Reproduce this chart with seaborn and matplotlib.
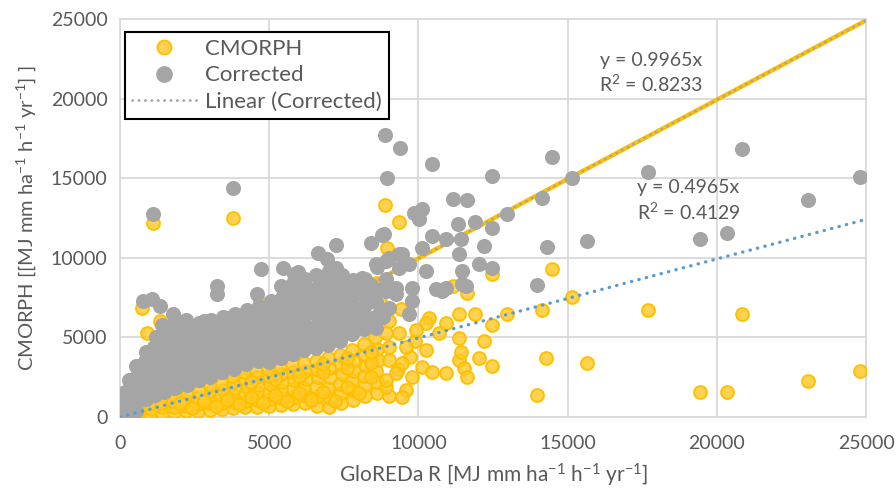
import numpy as np
import pandas as pd
import matplotlib
matplotlib.use("Agg")
import matplotlib.pyplot as plt
import seaborn as sns

# --- datos (GloREDa R vs CMORPH) ---
# nube densa de puntos corregidos (gris)
corrected_cloud = [
    (80, 250), (120, 700), (60, 1200), (150, 1600),
    (280, 150), (320, 650), (260, 1150), (340, 1750), (300, 2300),
    (520, 400), (580, 950), (540, 1500), (600, 2050), (560, 2600), (520, 3200),
    (880, 1150), (840, 1700), (900, 2300), (860, 2900), (820, 3500), (880, 4100),
    (1180, 1400), (1150, 2000), (1200, 2600), (1100, 3200), (1170, 3800), (1130, 4400), (1190, 5000),
    (1480, 1600), (1440, 2200), (1500, 2800), (1460, 3400), (1420, 4000), (1490, 4600), (1450, 5200), (1400, 5800),
    (1830, 1800), (1790, 2400), (1850, 3000), (1800, 3600), (1760, 4200), (1820, 4800), (1790, 5400), (1850, 6000),
    (2230, 2000), (2200, 2600), (2250, 3200), (2170, 3800), (2220, 4400), (2190, 5000), (2240, 5600), (2200, 6100),
    (2630, 2300), (2590, 2900), (2640, 3500), (2570, 4100), (2620, 4700), (2600, 5300), (2650, 5900),
    (3030, 2500), (2990, 3100), (3040, 3700), (2970, 4300), (3020, 4900), (3000, 5500), (3050, 6100),
    (3420, 2800), (3390, 3400), (3440, 4000), (3370, 4600), (3410, 5200), (3400, 5800), (3450, 6300),
    (3830, 3000), (3790, 3600), (3840, 4200), (3770, 4800), (3820, 5400), (3800, 6000), (3850, 6500),
    (4230, 3300), (4190, 3900), (4240, 4500), (4170, 5100), (4220, 5700), (4200, 6300), (4250, 6700),
    (4630, 3500), (4590, 4100), (4640, 4700), (4570, 5300), (4620, 5900), (4600, 6500), (4650, 7000),
    (4980, 3450), (5030, 3900), (4990, 4300), (5040, 4900), (4970, 5500), (5020, 6100), (5000, 6700), (5050, 7300),
    (5380, 3700), (5430, 4100), (5390, 4600), (5440, 5200), (5370, 5800), (5420, 6400), (5400, 7000), (5450, 7600), (5400, 8200),
    (5780, 3950), (5830, 4300), (5790, 4800), (5840, 5400), (5770, 6000), (5820, 6600), (5800, 7200), (5850, 7800), (5780, 8400), (5830, 9000),
    (6180, 4200), (6230, 4600), (6190, 5100), (6240, 5700), (6170, 6300), (6220, 6900), (6200, 7500), (6250, 8100), (6190, 8700),
    (6580, 4350), (6630, 4800), (6590, 5300), (6640, 5900), (6570, 6500), (6620, 7100), (6600, 7700), (6650, 8300), (6580, 8900),
    (6980, 4500), (7030, 5000), (6990, 5600), (7040, 6200), (6970, 6800), (7020, 7400), (7000, 8000), (7050, 8600), (6990, 9200),
    (7380, 4750), (7430, 5300), (7390, 5900), (7440, 6500), (7370, 7100), (7420, 7700), (7400, 8300), (7450, 8900),
    (7780, 5200), (7830, 5600), (7790, 6200), (7840, 6800), (7770, 7400), (7820, 8000), (7800, 8600),
    (8180, 5500), (8230, 5900), (8190, 6500), (8240, 7100), (8170, 7700), (8220, 8300), (8200, 8700),
    (8580, 5600), (8630, 6400), (8590, 7200), (8640, 8000), (8600, 9400),
    (400, 1900), (700, 1400), (1000, 2600), (1300, 3600), (1650, 4500), (2000, 5300),
    (2400, 3400), (2800, 4400), (3200, 5000), (3600, 5700), (4000, 4500), (4400, 5500),
    (4800, 6200), (5200, 5000), (5600, 6800), (6000, 7600), (6400, 5500), (6800, 8400),
    (7200, 6600), (7600, 7500), (8000, 6000), (8400, 7700), (8900, 8700), (8800, 6300),
    (1000, 1800), (1000, 3400), (1300, 2400), (1300, 4200), (1650, 2000), (1650, 3200),
    (1650, 5600), (2000, 2300), (2000, 3500), (2000, 4700), (2400, 2800), (2400, 4000),
    (2400, 5200), (2800, 2700), (2800, 3800), (2800, 5000), (2800, 6000), (3200, 2900),
    (3200, 4100), (3200, 5600), (3600, 3200), (3600, 4400), (3600, 6200), (4000, 3500),
    (4000, 5100), (4000, 6300), (4400, 3700), (4400, 4800), (4400, 6100), (4800, 4000),
    (4800, 5200), (4800, 6800), (5200, 4300), (5200, 5700), (5200, 7000), (5600, 4500),
    (5600, 5800), (5600, 7600), (6000, 4700), (6000, 6200), (6000, 8200), (6400, 4800),
    (6400, 6600), (6400, 7800), (6800, 5200), (6800, 6300), (6800, 7600), (7200, 5300),
    (7200, 7300), (7200, 8600), (7600, 5800), (7600, 6700), (7600, 8200), (8000, 6800),
    (8000, 7900), (8400, 6200), (8400, 8300),
]
# puntos corregidos dispersos
corrected_scatter = [
    (1100, 12750), (3780, 14375), (8890, 17690), (9390, 16875), (8950, 15000),
    (8790, 11440), (8420, 10940), (7250, 10810), (6620, 10310), (4710, 9310),
    (5450, 9375), (5950, 9125), (3240, 8250), (3240, 7750), (4580, 7750),
    (770, 7310), (1070, 7440), (1340, 7000), (1770, 6500), (10460, 15875),
    (14470, 16310), (12470, 15125), (15140, 15000), (17680, 15375), (11160, 13690),
    (11630, 13625), (14140, 13750), (12970, 12750), (9860, 12810), (10130, 13060),
    (10030, 12440), (11330, 12125), (11900, 12250), (12470, 11875), (12200, 10750),
    (14300, 10690), (15640, 11060), (13970, 8310), (8860, 11500), (20850, 16810),
    (24800, 15060), (23060, 13625), (19450, 11190), (20350, 11560),
    (10460, 11375), (10930, 11190), (11430, 11190), (10130, 10625), (9360, 10250),
    (8920, 9810), (9690, 9625), (10260, 9190), (11360, 10250), (11460, 9190),
    (12030, 9625), (12470, 9375), (11460, 8375), (10930, 8125), (10590, 8060),
    (9790, 8125), (9260, 7750), (8920, 7940), (9790, 7310), (9020, 6875),
    (9690, 6500), (11600, 8250), (6920, 9940), (7250, 9375), (7690, 8560),
    (8120, 8750), (8590, 9625), (9020, 10000), (9360, 9375), (9260, 8125),
    (9460, 10250), (10800, 7940),
]
# nube densa CMORPH (amarillo)
cmorph_cloud = [
    (100, 100), (120, 400), (300, 120), (320, 420), (600, 150), (620, 450),
    (1000, 200), (1020, 500), (980, 800), (1400, 250), (1420, 600), (1380, 900),
    (1800, 300), (1820, 650), (1780, 1000), (1840, 1300),
    (2200, 350), (2220, 700), (2180, 1050), (2240, 1400),
    (2600, 400), (2620, 800), (2580, 1200), (2640, 1600),
    (3000, 450), (3020, 850), (2980, 1250), (3040, 1650), (3000, 2000),
    (3400, 500), (3420, 900), (3380, 1300), (3440, 1700), (3400, 2100),
    (3800, 550), (3820, 950), (3780, 1400), (3840, 1800), (3800, 2200), (3760, 2600),
    (4200, 600), (4220, 1000), (4180, 1450), (4240, 1900), (4200, 2400), (4160, 2800),
    (4600, 650), (4620, 1100), (4580, 1550), (4640, 2000), (4600, 2500), (4560, 2900),
    (5000, 700), (5020, 1150), (4980, 1600), (5040, 2100), (5000, 2600), (4960, 3000),
    (5400, 750), (5420, 1200), (5380, 1700), (5440, 2200), (5400, 2700), (5360, 3200),
    (5800, 800), (5820, 1250), (5780, 1750), (5840, 2300), (5800, 2800), (5760, 3300),
    (6200, 850), (6220, 1300), (6180, 1850), (6240, 2400), (6200, 2900), (6160, 3400),
    (6600, 700), (6620, 1350), (6580, 1900), (6640, 2500), (6600, 3000), (6560, 3500),
    (7000, 650), (7020, 1200), (6980, 1850), (7040, 2500), (7000, 3100), (6960, 3700),
    (7400, 900), (7420, 1500), (7380, 2100), (7440, 2700), (7400, 3300), (7360, 3900),
    (7800, 1100), (7820, 1700), (7780, 2300), (7840, 2900), (7800, 3500), (7760, 4200),
    (8200, 1300), (8220, 2000), (8180, 2600), (8240, 3200), (8200, 3900), (8160, 4600),
    (8600, 1500), (8620, 2200), (8580, 2900), (8640, 3600), (8600, 4300), (8560, 5000),
    (2400, 550), (3200, 700), (4000, 800), (4800, 900), (5600, 1000), (6400, 1100),
    (7200, 1000), (8000, 1500), (9000, 1300), (9300, 3000), (9700, 3800), (9900, 4800),
    (2000, 900), (2800, 1000), (3600, 1100), (4400, 1250), (5200, 1400), (6000, 1500),
    (6800, 1600), (7600, 1900), (8400, 2500), (4400, 2200), (5200, 2400), (6000, 2600),
    (6800, 2800), (7600, 3100), (8400, 3400), (8400, 4100), (7600, 3700), (6800, 3300),
]
# puntos CMORPH dispersos
cmorph_scatter = [
    (1100, 12200), (3780, 12500), (8890, 13310), (9360, 12250), (8950, 10625),
    (14470, 9310), (15140, 7560), (14140, 6750), (17680, 6750), (12470, 9000),
    (11360, 6500), (11900, 6440), (12970, 6440), (11630, 7810), (11160, 8250),
    (12470, 5810), (12200, 4750), (14270, 3690), (15640, 3375), (13970, 1375),
    (12030, 3690), (11360, 3560), (12470, 3190), (11530, 3060), (10930, 2750),
    (11630, 2500), (9790, 2500), (9590, 1690), (9460, 1250), (8920, 1875),
    (11430, 4060), (10260, 4190), (20850, 6500), (19450, 1560), (20350, 1560),
    (23060, 2250), (24800, 2875), (8590, 8440), (7920, 7810), (4680, 7190),
    (740, 6875), (900, 5250), (1340, 6060), (1670, 5625),
    (10360, 6250), (10930, 5875), (10260, 5875), (9930, 5440), (9360, 5250),
    (8920, 5250), (10700, 5250), (11360, 4940), (9590, 4375), (9020, 4375),
    (9020, 3560), (9460, 3375), (10130, 3125), (10460, 2810), (9260, 2750),
    (8920, 2310), (9000, 6000), (9400, 6800), (8700, 7200),
]
# lineas de tendencia (pendientes de las etiquetas)
slope_corrected = 0.9965
slope_cmorph = 0.4965
line_x = [0, 25000]
ticks = [0, 5000, 10000, 15000, 20000, 25000]

cx, cy = zip(*(cmorph_cloud + cmorph_scatter))
gx, gy = zip(*(corrected_cloud + corrected_scatter))
df_cm = pd.DataFrame({"x": cx, "y": cy})
df_co = pd.DataFrame({"x": gx, "y": gy})
df_line = pd.DataFrame({"x": line_x})
df_line["corr"] = slope_corrected * df_line["x"]
df_line["cm"] = slope_cmorph * df_line["x"]

sns.set_style("white")
plt.rcParams["font.family"] = ["Lato", "DejaVu Sans"]
plt.rcParams["mathtext.fontset"] = "custom"
plt.rcParams["mathtext.rm"] = "Lato"
plt.rcParams["mathtext.it"] = "Lato:italic"
txt = "#595959"
yellow = "#FFC000"
yellow_face = (1.0, 0.79, 0.15, 0.8)
gray = "#A5A5A5"
blue = "#5B9BD5"

fig = plt.figure(figsize=(8.96, 4.92), dpi=100)
ax = fig.add_axes([0.134, 0.1524, 0.8326, 0.809])

sns.scatterplot(data=df_cm, x="x", y="y", ax=ax, s=85, color=yellow_face,
                edgecolor=yellow, linewidth=1.4, zorder=3)
ax.plot(df_line["x"], df_line["corr"], color=yellow, lw=3.2, zorder=4)
ax.plot(df_line["x"], df_line["corr"], color=gray, lw=2.0,
        linestyle=(0, (0.1, 2.2)), dash_capstyle="round", zorder=4)
sns.scatterplot(data=df_co, x="x", y="y", ax=ax, s=118, color=gray,
                edgecolor=gray, linewidth=0, alpha=1, zorder=5)
ax.plot(df_line["x"], df_line["cm"], color=blue, lw=2.4,
        linestyle=(0, (0.1, 2.2)), dash_capstyle="round", zorder=6)

ax.set_xlim(0, 25000)
ax.set_ylim(0, 25000)
ax.set_xticks(ticks)
ax.set_yticks(ticks)
ax.grid(True, color="#D9D9D9", lw=1.3)
ax.set_axisbelow(True)
for sp in ax.spines.values():
    sp.set_color("#D9D9D9")
    sp.set_linewidth(1.3)
ax.tick_params(axis="both", length=0, labelsize=14, colors=txt)
ax.tick_params(axis="x", pad=13)
ax.tick_params(axis="y", pad=9)

ax.set_xlabel(r"GloREDa R [MJ mm ha$^{-1}$ h$^{-1}$ yr$^{-1}$]",
              fontsize=15, color=txt, labelpad=7)
ax.set_ylabel(r"CMORPH [[MJ mm ha$^{-1}$ h$^{-1}$ yr$^{-1}$] ]",
              fontsize=14.5, color=txt, labelpad=9)

ax.text(17780, 21600, "y = 0.9965x\nR$^2$ = 0.8233", ha="center", va="center",
        fontsize=14, color=txt, linespacing=1.25, zorder=7)
ax.text(19050, 13550, "y = 0.4965x\nR$^2$ = 0.4129", ha="center", va="center",
        fontsize=14, color=txt, linespacing=1.3, zorder=7)

h_cm = plt.Line2D([], [], ls="", marker="o", ms=10, markeredgecolor=yellow,
                  markerfacecolor=yellow_face, markeredgewidth=1.4)
h_co = plt.Line2D([], [], ls="", marker="o", ms=11, color=gray)
h_ln = plt.Line2D([], [], color=gray, lw=2.0, linestyle=(0, (0.1, 2.2)),
                  dash_capstyle="round")
leg = ax.legend([h_cm, h_co, h_ln], ["CMORPH", "Corrected", "Linear (Corrected)"],
                loc="upper left", bbox_to_anchor=(0.007, 0.967), fontsize=16,
                frameon=True, fancybox=False, framealpha=1, edgecolor="black",
                handlelength=2.9, labelspacing=0.3, borderpad=0.3,
                handletextpad=0.4, borderaxespad=0)
leg.get_frame().set_linewidth(1.5)
for t in leg.get_texts():
    t.set_color(txt)
leg.set_zorder(10)

fig.savefig("out.png", dpi=100)
